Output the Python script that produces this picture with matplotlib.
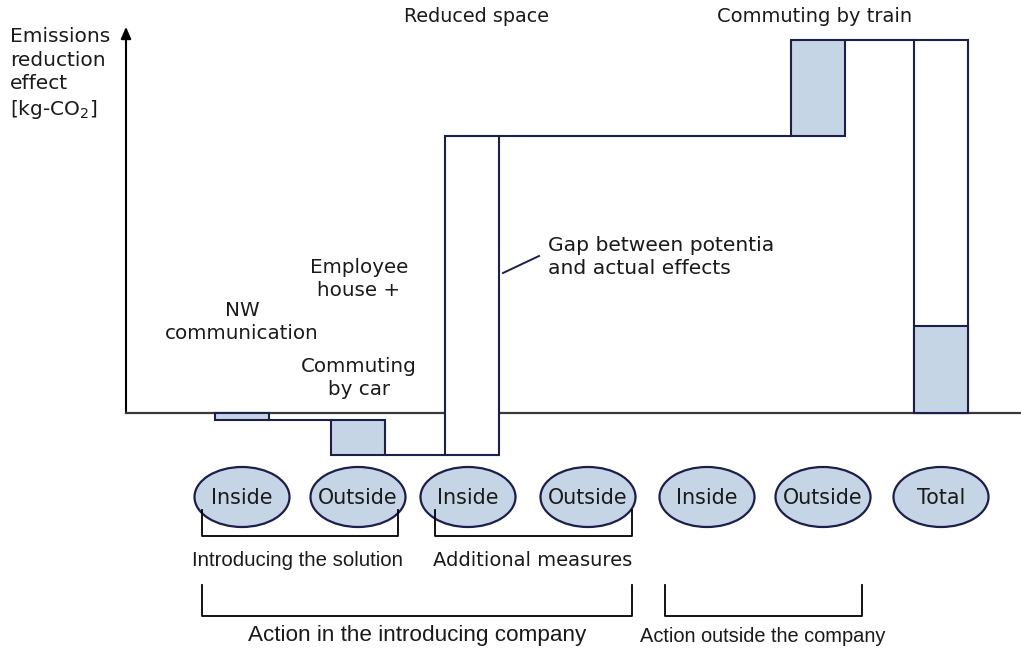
import matplotlib
matplotlib.use("Agg")
import matplotlib.pyplot as plt
from matplotlib.patches import Rectangle, Ellipse

plt.rcParams['font.family'] = ['DejaVu Sans']

# ---- data ----
slot_labels = ["Inside", "Outside", "Inside", "Outside", "Inside", "Outside", "Total"]
step_values = [-0.7, -3.5, 31.9, 0.0, 0.0, 9.6]          # kg-CO2 (relative units)
step_fill = ["blue", "blue", "white", None, None, "blue"]
total_realized = 8.7
group_labels = ["Introducing the solution", "Additional measures"]
top_labels = ["Action in the introducing company", "Action outside the company"]

# ---- layout ----
slot_px = [242, 358, 472, 588, 708, 818, 941]   # horizontal slot centres (pixels)
ell_px = [242, 358, 468, 588, 707, 823, 941]

NAVY = "#1b1f4b"
FILL = "#c5d5e6"
TXT = "#1a1a1a"
NARROW = ['Liberation Sans', 'DejaVu Sans']

fig = plt.figure(figsize=(10.21, 6.51), dpi=100)
ax = fig.add_axes([0, 0, 1, 1])
ax.set_xlim(0, 1021)
ax.set_ylim((413 - 651) / 10.0, 413 / 10.0)
ax.axis("off")

ov = fig.add_axes([0, 0, 1, 1], zorder=5)
ov.set_xlim(0, 1021)
ov.set_ylim(651, 0)
ov.axis("off")
ov.patch.set_alpha(0)

hw = 27
lw = 1.5

# baseline
ax.plot([126, 1021], [0, 0], color="#3a3a3a", lw=1.6, zorder=1)

# waterfall
level = 0.0
prev_edge = None
for i, v in enumerate(step_values):
    if v == 0:
        continue
    x = slot_px[i]
    if prev_edge is not None:
        ax.plot([prev_edge, x - hw], [level, level], color=NAVY, lw=lw, zorder=2)
    fc = FILL if step_fill[i] == "blue" else "white"
    ax.add_patch(Rectangle((x - hw, level), 2 * hw, v, facecolor=fc, edgecolor=NAVY, lw=lw, zorder=3))
    level += v
    prev_edge = x + hw
total = sum(step_values)
xt = slot_px[len(step_values)]
ax.plot([prev_edge, xt - hw], [level, level], color=NAVY, lw=lw, zorder=2)
ax.add_patch(Rectangle((xt - hw, 0), 2 * hw, total, facecolor="white", edgecolor=NAVY, lw=lw, zorder=3))
ax.add_patch(Rectangle((xt - hw, 0), 2 * hw, total_realized, facecolor=FILL, edgecolor=NAVY, lw=lw, zorder=4))

# ellipses
for i, lab in enumerate(slot_labels):
    ax.add_patch(Ellipse((ell_px[i], -8.4), 95, 6.0, facecolor=FILL, edgecolor=NAVY, lw=1.6, zorder=6))
    ax.text(ell_px[i], -8.5, lab, ha="center", va="center", fontsize=14.9, color=TXT, zorder=7)

# y axis arrow
ov.annotate("", xy=(126, 24), xytext=(126, 414),
            arrowprops=dict(arrowstyle="-|>,head_length=0.7,head_width=0.3", color="black", lw=1.5))
ov.text(10, 27, "Emissions\nreduction\neffect\n[kg-CO$_2$]", ha="left", va="top", fontsize=14.5,
        color=TXT, linespacing=1.3)

ov.text(476, 17, "Reduced space", ha="center", va="center", fontsize=13.8, color=TXT)
ov.text(815, 17, "Commuting by train", ha="center", va="center", fontsize=14.0, color=TXT)
ov.text(242, 322, "NW\ncommunication", ha="center", va="center", fontsize=14.3, color=TXT, linespacing=1.28)
ov.text(359, 279, "Employee\nhouse +", ha="center", va="center", fontsize=14.3, color=TXT, linespacing=1.28)
ov.text(359, 378, "Commuting\nby car", ha="center", va="center", fontsize=14.3, color=TXT, linespacing=1.28)
ov.text(548, 257, "Gap between potentia\nand actual effects", ha="left", va="center", fontsize=14.6,
        color=TXT, linespacing=1.28)
ov.plot([503, 539], [273, 256], color=NAVY, lw=1.4)

# brackets
def bracket(x0, x1, y0, y1):
    ov.plot([x0, x0, x1, x1], [y0, y1, y1, y0], color="black", lw=1.3, zorder=1)

bracket(202, 398, 510, 536)
bracket(435, 632, 510, 536)
bracket(202, 632, 585, 616)
bracket(665, 862, 585, 616)
ov.text(297, 560, group_labels[0], ha="center", va="center", fontsize=14.7, color=TXT, family=NARROW)
ov.text(533, 560, group_labels[1], ha="center", va="center", fontsize=14.0, color=TXT)
ov.text(417, 636, top_labels[0], ha="center", va="center", fontsize=16.2, color=TXT, family=NARROW)
ov.text(763, 636, top_labels[1], ha="center", va="center", fontsize=14.4, color=TXT, family=NARROW)

fig.savefig("out.png", dpi=100)
